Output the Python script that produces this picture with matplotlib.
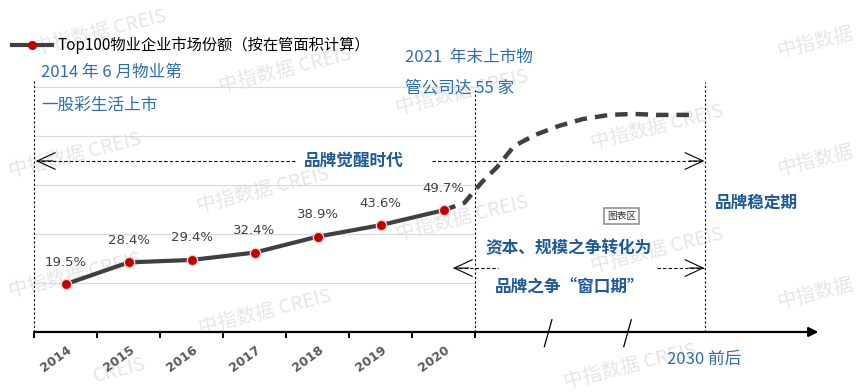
import matplotlib.pyplot as plt
import matplotlib as mpl

mpl.rcParams['font.family'] = ['Noto Sans CJK SC', 'DejaVu Sans']

# data
years = ['2014', '2015', '2016', '2017', '2018', '2019', '2020']
share = [19.5, 28.4, 29.4, 32.4, 38.9, 43.6, 49.7]
share_labels = ['19.5%', '28.4%', '29.4%', '32.4%', '38.9%', '43.6%', '49.7%']
# forecast curve (position on category axis, share %)
trend_x = [6.0, 6.33, 6.61, 6.85, 7.12, 7.45, 7.83, 8.21, 8.63, 9.01, 9.39, 9.80, 9.91]
trend_y = [49.7, 52.7, 61.2, 67.3, 75.9, 80.4, 84.1, 86.9, 88.6, 89.0, 88.6, 88.6, 88.6]
grid_vals = [20, 40, 60, 80, 100]

BLUE = '#2F6DAE'
DBLUE = '#1F5A96'
GRAY = '#404040'
RED = '#C00000'

fig = plt.figure(figsize=(8.6, 3.92), dpi=100)
ax = fig.add_axes([0, 0, 1, 1])
ax.set_xlim(-1.04, 12.61)
ax.set_ylim(-24.5, 135.5)
ax.axis('off')

# watermarks (behind everything)
wm = [(100, 32, '中指数据 CREIS'), (285, 70, '中指数据 CREIS'), (462, 92, '中指数据 CREIS'),
      (657, 127, '中指数据 CREIS'), (815, 42, '中指数据'), (815, 160, '中指数据'),
      (75, 155, '中指数据 CREIS'), (263, 190, '中指数据 CREIS'), (75, 275, '中指数据 CREIS'),
      (265, 312, '中指数据 CREIS'), (462, 218, '中指数据 CREIS'), (657, 250, '中指数据 CREIS'),
      (815, 293, '中指数据'), (630, 366, '中指数据 CREIS'), (120, 370, 'CREIS')]
for px, py, t in wm:
    ax.text(px / 860, 1 - py / 392, t, ha='center', va='center', rotation=14,
            fontsize=14, color='#e6e6e6', transform=fig.transFigure, zorder=0.5)

# gridlines
for g in grid_vals:
    ax.plot([-0.5, 6.5], [g, g], color='#d9d9d9', lw=0.8, zorder=1)

# x axis with arrow
ax.annotate('', xy=(11.95, 0), xytext=(-0.5, 0),
            arrowprops=dict(arrowstyle='-|>', color='black', lw=1.6, mutation_scale=14,
                            shrinkA=0, shrinkB=0),
            zorder=3)
for i in range(8):
    ax.plot([i - 0.5, i - 0.5], [0, -2.0], color='black', lw=1.4, zorder=3)
for sx in [7.66, 8.92]:
    ax.plot([sx - 0.06, sx + 0.06], [-6, 5], color='black', lw=0.9, zorder=3)

for i, y in enumerate(years):
    ax.text(i + 0.07, -6.9, y, rotation=36, rotation_mode='anchor', ha='right', va='center',
            fontsize=9, fontweight='bold', color='#595959', family='DejaVu Sans')

# vertical dashed separators
for vx, top in [(-0.5, 102.9), (6.5, 98.8), (10.15, 102.0)]:
    ax.plot([vx, vx], [0, top], color='black', lw=0.8, dashes=(2, 2), zorder=2)

# horizontal dashed arrows
ax.plot([-0.47, 3.68], [69.8, 69.8], color='black', lw=0.8, dashes=(3, 2), zorder=2)
ax.plot([5.82, 10.14], [69.8, 69.8], color='black', lw=0.8, dashes=(3, 2), zorder=2)
ax.plot([6.15, 6.87], [26.1, 26.1], color='black', lw=0.8, dashes=(3, 2), zorder=2)
ax.plot([9.39, 10.14], [26.1, 26.1], color='black', lw=0.8, dashes=(3, 2), zorder=2)
for (x0, x1, yy) in [(-0.2, -0.47, 69.8), (9.9, 10.14, 69.8), (6.4, 6.15, 26.1), (9.9, 10.14, 26.1)]:
    ax.annotate('', xy=(x1, yy), xytext=(x0, yy),
                arrowprops=dict(arrowstyle='->,head_length=0.65,head_width=0.3', color='black',
                                lw=0.8, mutation_scale=20, shrinkA=0, shrinkB=0))

# main series
x = list(range(len(years)))
ax.plot(x, share, color=GRAY, lw=3, zorder=4)
ax.scatter(x, share, s=55, color=RED, edgecolor='#f2d0d0', linewidth=1, zorder=5)
for i, (v, lab) in enumerate(zip(share, share_labels)):
    ax.text(i, v + 9, lab, ha='center', va='center', fontsize=9.5, color=GRAY,
            family='DejaVu Sans')

# forecast
ax.plot(trend_x, trend_y, color=GRAY, lw=3.2, dashes=(2.8, 1.8), dash_capstyle='butt',
        zorder=4)

# legend
ax.plot([-0.85, -0.21], [117.1, 117.1], color=GRAY, lw=3, zorder=5)
ax.scatter([-0.53], [117.1], s=30, color=RED, zorder=6)
ax.text(-0.13, 117.1, 'Top100物业企业市场份额（按在管面积计算）', ha='left', va='center',
        fontsize=11, color='black')

# annotations
ax.text(-0.39, 106.1, '2014 年 6 月物业第', ha='left', va='center', fontsize=12, color=BLUE)
ax.text(-0.39, 92.7, '一股彩生活上市', ha='left', va='center', fontsize=12, color=BLUE)
ax.text(5.39, 112.2, '2021  年末上市物', ha='left', va='center', fontsize=12, color=BLUE)
ax.text(5.39, 99.6, '管公司达 55 家', ha='left', va='center', fontsize=12, color=BLUE)
ax.text(4.58, 69.8, '品牌觉醒时代', ha='center', va='center', fontsize=12,
        fontweight='bold', color=DBLUE)
ax.text(6.66, 34.3, '资本、规模之争转化为', ha='left', va='center', fontsize=12,
        fontweight='bold', color=DBLUE)
ax.text(6.82, 18.0, '品牌之争“窗口期”', ha='left', va='center', fontsize=12,
        fontweight='bold', color=DBLUE)
ax.text(10.31, 52.7, '品牌稳定期', ha='left', va='center', fontsize=12,
        fontweight='bold', color=DBLUE)
ax.text(9.55, -11.4, '2030 前后', ha='left', va='center', fontsize=12, color=BLUE)

# excel tooltip artifact
ax.text(8.83, 47.3, '图表区', ha='center', va='center', fontsize=7, color='#333333',
        bbox=dict(boxstyle='square,pad=0.3', fc='white', ec='#8a8a8a', lw=1.1), zorder=7)

fig.savefig('out.png', dpi=100)
